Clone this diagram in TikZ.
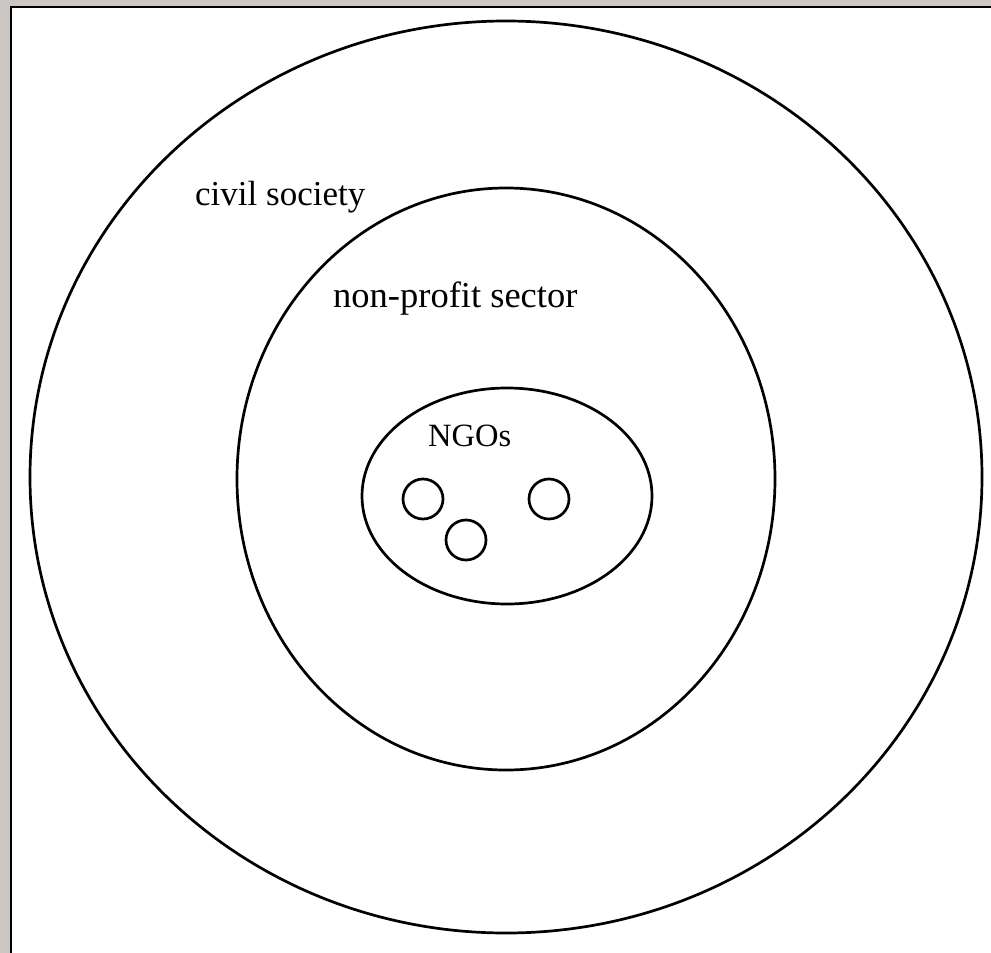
\documentclass[tikz,border=0pt]{standalone}
\usepackage{fontspec}
\setmainfont{Liberation Serif}
\definecolor{bggray}{RGB}{205,199,196}
\begin{document}
\begin{tikzpicture}[x=1pt,y=-1pt,
  ring/.style={draw=black,line width=2.7pt},
  lbl/.style={anchor=base west,inner sep=0pt,font=\fontsize{35}{40}\selectfont}]
\useasboundingbox (0,0) rectangle (991,953);
\fill[bggray] (0,0) rectangle (991,953);
\fill[white] (10,6) rectangle (991,953);
\draw[line width=2.5pt] (11,953) -- (11,7) -- (991,7);
% rings
\draw[ring] (506,477) ellipse [x radius=476, y radius=456];
\draw[ring] (506,479) ellipse [x radius=269, y radius=291];
\draw[ring] (507,496) ellipse [x radius=145, y radius=108];
\node[ring,circle,minimum size=40pt,inner sep=0pt] (c1) at (423,499) {};
\node[ring,circle,minimum size=40pt,inner sep=0pt] (c2) at (466,540) {};
\node[ring,circle,minimum size=40pt,inner sep=0pt] (c3) at (549,499) {};
% labels
\node[lbl] (cs) at (195,205) {civil society};
\node[lbl,font=\fontsize{36.5}{40}\selectfont] (np) at (333,307) {non-profit sector};
\node[lbl,font=\fontsize{32.5}{36}\selectfont] (ngo) at (428,446) {NGOs};
\end{tikzpicture}
\end{document}
